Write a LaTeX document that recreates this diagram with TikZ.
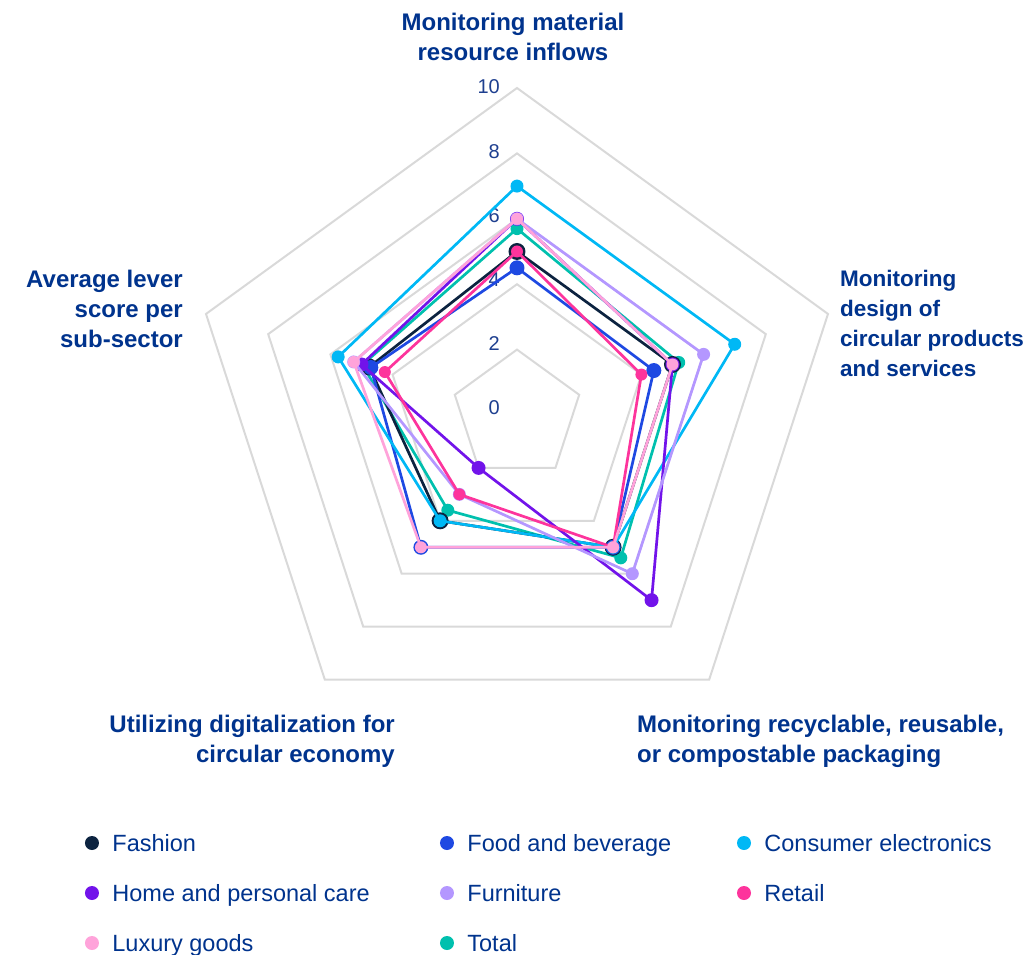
\documentclass[tikz,border=0pt]{standalone}
\usepackage{fontspec}
\setmainfont{Liberation Sans}
\usetikzlibrary{positioning}

\definecolor{kblue}{HTML}{00338D}
\definecolor{ticktext}{HTML}{1E3F8F}
\definecolor{gridgray}{HTML}{D9D9D9}
\definecolor{fashion}{HTML}{0C2340}
\definecolor{food}{HTML}{1E49E2}
\definecolor{consumer}{HTML}{00B8F5}
\definecolor{home}{HTML}{7213EA}
\definecolor{furniture}{HTML}{B497FF}
\definecolor{retail}{HTML}{FD349C}
\definecolor{luxury}{HTML}{FFA3DA}
\definecolor{total}{HTML}{00C0AE}

\newcommand\scoreunit{32.7}
% one sub-sector: name, colour, dot radius, scores on the five levers
\newcommand\drawsector[4]{%
  \foreach \s [count=\i] in {#4}
    \coordinate (#1-\i) at ({162-72*\i}:\s*\scoreunit);
  \draw[series,draw=#2] (#1-1) -- (#1-2) -- (#1-3) -- (#1-4) -- (#1-5) -- cycle;
  \foreach \i in {1,...,5}
    \node[dot,fill=#2,minimum size=2*#3] (#1-dot-\i) at (#1-\i) {};
}

\begin{document}
\begin{tikzpicture}[x=1pt,y=1pt,
    gridline/.style={draw=gridgray,line width=2pt},
    series/.style={line width=2.7pt,line join=round},
    dot/.style={circle,inner sep=0pt},
    axislabel/.style={font=\bfseries\fontsize{24}{30}\selectfont,text=kblue,inner sep=0pt},
    ticklabel/.style={font=\fontsize{20}{24}\selectfont,text=ticktext,inner sep=0pt,anchor=east},
    legdot/.style={circle,inner sep=0pt,minimum size=14pt},
    legtext/.style={font=\fontsize{23.5}{28}\selectfont,text=kblue,inner sep=0pt,
      text height=17pt,text depth=0pt}]
  \useasboundingbox (-517,-540) rectangle (516,415);

  % grid
  \foreach \v in {2,4,...,10}
    \draw[gridline] (90:\v*\scoreunit) -- (18:\v*\scoreunit) -- (-54:\v*\scoreunit)
      -- (-126:\v*\scoreunit) -- (162:\v*\scoreunit) -- cycle;
  \foreach \v in {0,2,...,10}
    \node[ticklabel] (tick-\v) at (-17,7+32.1*\v) {\v};

  % sub-sectors
  \drawsector{total}{total}{6.5}{5.7,5.2,5.4,3.6,4.97}
  \drawsector{fashion}{fashion}{8.5}{5,5,5,4,4.75}
  \drawsector{food}{food}{7.5}{4.5,4.4,5,5,4.7}
  \drawsector{consumer}{consumer}{6.5}{7,7,5,4,5.75}
  \drawsector{home}{home}{7}{6,5,7,2,5}
  \drawsector{furniture}{furniture}{6.5}{6,6,6,3,5.25}
  \drawsector{retail}{retail}{6}{5,4,5,3,4.25}
  \drawsector{luxury}{luxury}{6}{6,5,5,5,5.25}

  % levers
  \node[axislabel,align=center,anchor=north] (lever-inflows) at (-4,402.5)
    {Monitoring material\\resource inflows};
  \node[axislabel,font=\bfseries\fontsize{22.5}{30}\selectfont,align=left,anchor=north west]
    (lever-design) at (323,145.5)
    {Monitoring\\design of\\circular products\\and services};
  \node[axislabel,align=left,anchor=north west] (lever-packaging) at (120,-300)
    {Monitoring recyclable, reusable,\\or compostable packaging};
  \node[axislabel,align=right,anchor=north east] (lever-digital) at (-122,-300)
    {Utilizing digitalization for\\circular economy};
  \node[axislabel,align=right,anchor=north east] (lever-average) at (-334,145)
    {Average lever\\score per\\sub-sector};

  % legend
  \node[legdot,fill=fashion] (leg-fashion) at (-425,-428) {};
  \node[legtext,right=13pt of leg-fashion] {Fashion};
  \node[legdot,fill=food] (leg-food) at (-70,-428) {};
  \node[legtext,right=13pt of leg-food] {Food and beverage};
  \node[legdot,fill=consumer] (leg-consumer) at (227,-428) {};
  \node[legtext,right=13pt of leg-consumer] {Consumer electronics};
  \node[legdot,fill=home] (leg-home) at (-425,-478) {};
  \node[legtext,right=13pt of leg-home] {Home and personal care};
  \node[legdot,fill=furniture] (leg-furniture) at (-70,-478) {};
  \node[legtext,right=13pt of leg-furniture] {Furniture};
  \node[legdot,fill=retail] (leg-retail) at (227,-478) {};
  \node[legtext,right=13pt of leg-retail] {Retail};
  \node[legdot,fill=luxury] (leg-luxury) at (-425,-528) {};
  \node[legtext,right=13pt of leg-luxury] {Luxury goods};
  \node[legdot,fill=total] (leg-total) at (-70,-528) {};
  \node[legtext,right=13pt of leg-total] {Total};
\end{tikzpicture}
\end{document}
